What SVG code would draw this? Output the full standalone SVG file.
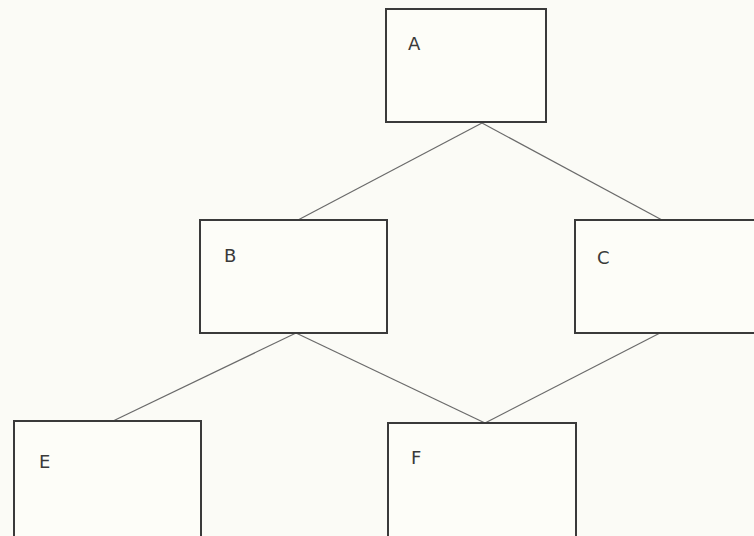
<svg xmlns="http://www.w3.org/2000/svg" width="754" height="536" viewBox="0 0 754 536">
<style>
.box{fill:#fdfdf8;stroke:#3a3a3a;stroke-width:2}
.lbl{font-family:"DejaVu Sans",sans-serif;font-size:18px;fill:#3a3a3a}
.edge{stroke:#6a6a6a;stroke-width:1.2;fill:none}
</style>
<rect width="754" height="536" fill="#fbfbf6"/>
<g id="connectors">
<line class="edge" x1="482" y1="123" x2="298" y2="220"/>
<line class="edge" x1="482" y1="123" x2="662" y2="220"/>
<line class="edge" x1="296" y1="333" x2="113" y2="421"/>
<line class="edge" x1="296" y1="333" x2="485" y2="423"/>
<line class="edge" x1="660" y1="333" x2="485" y2="423"/>
</g>
<g id="A"><rect class="box" x="386" y="9" width="160" height="113"/><text class="lbl" x="408" y="50">A</text></g>
<g id="B"><rect class="box" x="200" y="220" width="187" height="113"/><text class="lbl" x="224" y="262">B</text></g>
<g id="C"><rect class="box" x="575" y="220" width="185" height="113"/><text class="lbl" x="597" y="264">C</text></g>
<g id="E"><rect class="box" x="14" y="421" width="187" height="120"/><text class="lbl" x="39" y="468">E</text></g>
<g id="F"><rect class="box" x="388" y="423" width="188" height="118"/><text class="lbl" x="411" y="464">F</text></g>
</svg>
